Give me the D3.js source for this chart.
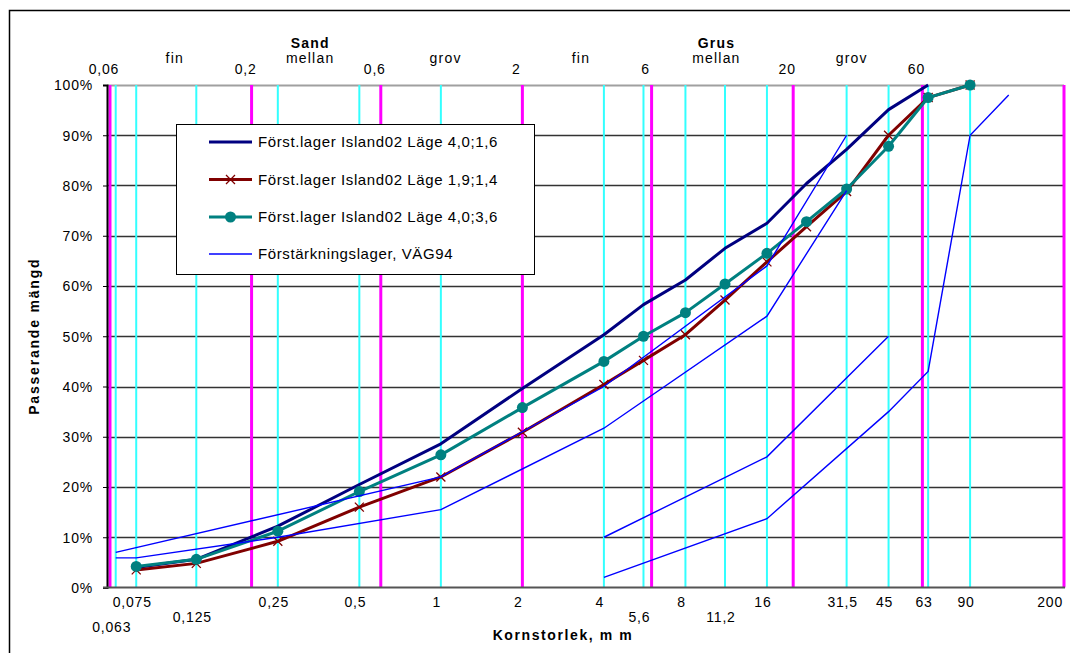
<!DOCTYPE html>
<html>
<head>
<meta charset="utf-8">
<script src="https://cdn.jsdelivr.net/npm/d3@7/dist/d3.min.js"></script>
<style>
  html, body { margin: 0; padding: 0; background: #fff; }
  svg { display: block; font-family: "Liberation Sans", Arial, sans-serif; }
</style>
</head>
<body>
<svg id="chart" width="1070" height="653"></svg>
<script>
// Sieve sizes (mm) where the samples were measured
const sieveSizes = [0.075, 0.125, 0.25, 0.5, 1, 2, 4, 5.6, 8, 11.2, 16, 22.4, 31.5, 45, 63, 90];

// Passing percentages for each sample
const lage40_16 = [4.0, 5.6, 12.2, 20.5, 28.6, 39.6, 50.3, 56.3, 61.2, 67.5, 72.5, 80.4, 87.2, 95.1, 100, null];
const lage19_14 = [3.5, 4.8, 9.2, 16.0, 22.0, 30.9, 40.4, 45.2, 50.3, 57.2, 64.8, 71.8, 78.8, 90.0, 97.5, 100];
const lage40_36 = [4.2, 5.6, 11.2, 19.1, 26.4, 35.8, 45.0, 50.0, 54.7, 60.4, 66.5, 72.8, 79.3, 87.8, 97.5, 100];

// VÄG94 reinforcement-layer limit curves (sizes mm, passing %)
const vagCurveA = { sizes: [0.063, 1, 4, 16, 31.5], values: [7, 22, 40, 64, 90] };
const vagCurveB = { sizes: [0.063, 0.075, 0.25, 1, 4, 16, 31.5], values: [5.9, 5.9, 10, 15.5, 31.7, 54, 79] };
const vagCurveC = { sizes: [4, 16, 45], values: [10, 26, 50] };
const vagCurveD = { sizes: [4, 16, 45, 63, 90, 125], values: [2, 13.7, 35, 43, 90, 98] };

// Sieve gridlines and fraction boundaries
const sieveLines = [0.063, 0.075, 0.125, 0.25, 0.5, 1, 4, 5.6, 8, 11.2, 16, 31.5, 45, 63, 90];
const fractionBounds = [0.06, 0.2, 0.6, 2, 6, 20, 60, 200];

// Axis tick labels
const yTicks = [0, 10, 20, 30, 40, 50, 60, 70, 80, 90, 100];
const xLabelsRow1 = [0.075, 0.25, 0.5, 1, 2, 4, 8, 16, 31.5, 45, 63, 90, 200];
const xLabelsRow2 = [0.125, 5.6, 11.2];
const xLabelsRow3 = [0.063];

// Fraction names along the top
const fractionNames = [
  { lo: 0.06, hi: 0.2, name: "fin" },
  { lo: 0.2, hi: 0.6, name: "mellan", group: "Sand" },
  { lo: 0.6, hi: 2, name: "grov" },
  { lo: 2, hi: 6, name: "fin" },
  { lo: 6, hi: 20, name: "mellan", group: "Grus" },
  { lo: 20, hi: 60, name: "grov" }
];

const seriesNames = [
  "Först.lager Island02 Läge 4,0;1,6",
  "Först.lager Island02 Läge 1,9;1,4",
  "Först.lager Island02 Läge 4,0;3,6",
  "Förstärkningslager, VÄG94"
];

const svg = d3.select("#chart");
const plotLeft = 107, plotRight = 1064, plotTop = 85, plotBottom = 587.5;

const x = d3.scaleLog().domain([0.0585, 200]).range([plotLeft, plotRight]);
const y = d3.scaleLinear().domain([0, 100]).range([plotBottom, plotTop]);
const fmt = v => String(v).replace(".", ",");

// outer chart border
svg.append("rect")
  .attr("x", 9.5).attr("y", 10.5).attr("width", 1100).attr("height", 700)
  .attr("fill", "none").attr("stroke", "#000").attr("stroke-width", 1.5);

// horizontal gridlines
svg.append("g").selectAll("line")
  .data(yTicks.filter(t => t > 0))
  .join("line")
  .attr("x1", plotLeft).attr("x2", plotRight)
  .attr("y1", d => Math.round(y(d)) + 0.5).attr("y2", d => Math.round(y(d)) + 0.5)
  .attr("stroke", d => d === 100 ? "#a0a0a0" : "#333")
  .attr("stroke-width", d => d === 100 ? 2 : 1.3);

// sieve lines
svg.append("g").selectAll("line")
  .data(sieveLines)
  .join("line")
  .attr("x1", d => x(d)).attr("x2", d => x(d))
  .attr("y1", plotTop).attr("y2", plotBottom)
  .attr("stroke", "#33ffff").attr("stroke-width", 2);

// fraction boundaries
svg.append("g").selectAll("line")
  .data(fractionBounds)
  .join("line")
  .attr("x1", d => x(d)).attr("x2", d => x(d))
  .attr("y1", plotTop).attr("y2", plotBottom)
  .attr("stroke", "#ff00ff").attr("stroke-width", 3);

// y axis
const yAxis = d3.axisLeft(y).tickValues(yTicks).tickSize(4).tickFormat(d => d + "%");
const gy = svg.append("g").attr("transform", `translate(${plotLeft},0)`).call(yAxis);
gy.select(".domain").attr("stroke", "#000").attr("stroke-width", 2);
gy.selectAll(".tick line").attr("stroke", "#000");
gy.selectAll(".tick text")
  .attr("x", -14).attr("dy", "0.35em")
  .style("font-size", "14px").style("letter-spacing", "0.8px")
  .style("font-family", "'Liberation Sans', Arial, sans-serif")
  .attr("fill", "#000");

// x axis baseline
svg.append("line")
  .attr("x1", plotLeft - 4).attr("x2", plotRight + 1)
  .attr("y1", plotBottom).attr("y2", plotBottom)
  .attr("stroke", "#555").attr("stroke-width", 2.2);

// bottom sieve labels
const labelStyle = sel => sel
  .attr("text-anchor", "middle")
  .style("font-size", "14px").style("letter-spacing", "0.8px")
  .attr("fill", "#000");

const xMax = x.domain()[1];
[[xLabelsRow1, 607], [xLabelsRow2, 622], [xLabelsRow3, 632]].forEach(([vals, yy]) => {
  svg.append("g").selectAll("text")
    .data(vals)
    .join("text")
    .attr("x", d => d === xMax ? x(d) - 1 : x(d) - 4)
    .attr("y", yy)
    .text(fmt)
    .call(labelStyle)
    .attr("text-anchor", d => d === xMax ? "end" : "middle");
});

// top boundary labels
svg.append("g").selectAll("text")
  .data(fractionBounds.filter(d => d < xMax))
  .join("text")
  .attr("x", d => x(d) - 6)
  .attr("y", 74)
  .text(fmt)
  .call(labelStyle);

// fraction names
const mid = d => Math.sqrt(d.lo * d.hi);
svg.append("g").selectAll("text")
  .data(fractionNames)
  .join("text")
  .attr("x", d => x(mid(d)) - 6)
  .attr("y", 63)
  .text(d => d.name)
  .call(labelStyle)
  .style("letter-spacing", "1.2px");
svg.append("g").selectAll("text")
  .data(fractionNames.filter(d => d.group))
  .join("text")
  .attr("x", d => x(mid(d)) - 6)
  .attr("y", 48)
  .text(d => d.group)
  .call(labelStyle)
  .style("font-weight", "bold")
  .style("letter-spacing", "1.2px");

// axis titles
svg.append("text")
  .attr("x", 563).attr("y", 640)
  .attr("text-anchor", "middle")
  .style("font-size", "14px").style("font-weight", "bold").style("letter-spacing", "1.6px")
  .text("Kornstorlek, m m");

svg.append("text")
  .attr("transform", `translate(39,${(plotTop + plotBottom) / 2}) rotate(-90)`)
  .attr("text-anchor", "middle")
  .style("font-size", "14px").style("font-weight", "bold").style("letter-spacing", "1.8px")
  .text("Passerande mängd");

// sample curves
const line = d3.line()
  .defined(d => d[1] != null)
  .x(d => x(d[0])).y(d => y(d[1]));
const pairs = vals => sieveSizes.map((s, i) => [s, vals[i]]);

const samples = [
  { vals: lage40_16, color: "#000080", marker: null },
  { vals: lage19_14, color: "#800000", marker: "x" },
  { vals: lage40_36, color: "#008080", marker: "circle" }
];

function drawMarker(g, kind, color, cx, cy) {
  if (kind === "x") {
    const s = 4.5;
    g.append("path")
      .attr("d", `M${cx - s},${cy - s}L${cx + s},${cy + s}M${cx - s},${cy + s}L${cx + s},${cy - s}`)
      .attr("stroke", color).attr("stroke-width", 1.3).attr("fill", "none");
  } else if (kind === "circle") {
    g.append("circle").attr("cx", cx).attr("cy", cy).attr("r", 5.5).attr("fill", color);
  }
}

samples.forEach(s => {
  const g = svg.append("g");
  const pts = pairs(s.vals);
  g.append("path")
    .attr("d", line(pts))
    .attr("fill", "none").attr("stroke", s.color).attr("stroke-width", 3)
    .attr("stroke-linejoin", "round");
  if (s.marker) {
    pts.filter(p => p[1] != null).forEach(p => drawMarker(g, s.marker, s.color, x(p[0]), y(p[1])));
  }
});

// VÄG94 limit curves
const gv = svg.append("g");
[vagCurveA, vagCurveB, vagCurveC, vagCurveD].forEach(c => {
  gv.append("path")
    .attr("d", line(c.sizes.map((s, i) => [s, c.values[i]])))
    .attr("fill", "none").attr("stroke", "#0000ff").attr("stroke-width", 1.4);
});

// legend
const lg = svg.append("g");
lg.append("rect")
  .attr("x", 176.5).attr("y", 124.5).attr("width", 358).attr("height", 150)
  .attr("fill", "#fff").attr("stroke", "#000").attr("stroke-width", 1);

const legendItems = [
  { color: "#000080", width: 3, marker: null },
  { color: "#800000", width: 3, marker: "x" },
  { color: "#008080", width: 3, marker: "circle" },
  { color: "#0000ff", width: 1.4, marker: null }
];
const rowY = [142, 179.5, 217, 254];
legendItems.forEach((it, i) => {
  const yy = rowY[i];
  lg.append("line")
    .attr("x1", 209).attr("x2", 252).attr("y1", yy).attr("y2", yy)
    .attr("stroke", it.color).attr("stroke-width", it.width);
  if (it.marker) drawMarker(lg, it.marker, it.color, 230.5, yy);
  lg.append("text")
    .attr("x", 258).attr("y", yy).attr("dy", "0.35em")
    .style("font-size", "15px").style("letter-spacing", "0.6px")
    .text(seriesNames[i]);
});
</script>
</body>
</html>
